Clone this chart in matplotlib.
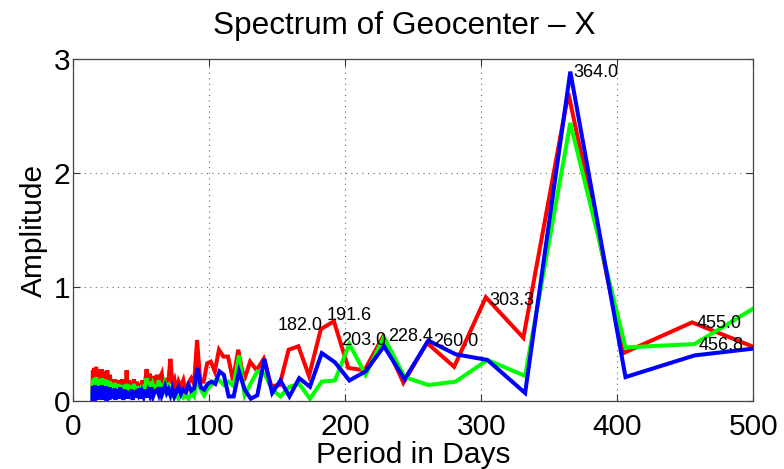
import matplotlib
matplotlib.use("Agg")
import matplotlib.pyplot as plt

# ---------------- data ----------------
dense_periods = [14.0, 14.4, 14.8, 15.2, 15.6, 16.0, 16.4, 16.8, 17.2, 17.6, 18.0, 18.4, 18.8, 19.2, 19.6, 20.0,
                 20.5, 21.0, 21.5, 22.0, 22.5, 23.0, 23.5, 24.0, 24.5, 25.0, 25.5, 26.0, 26.5, 27.0, 27.5, 28.0,
                 28.6, 29.2, 29.8, 30.4, 31.0, 31.7, 32.4, 33.1, 33.8, 34.5, 35.2, 36.0, 36.8, 37.6, 38.4, 39.2,
                 40.0, 40.9, 41.8, 42.7, 43.6, 44.5, 45.5, 46.5, 47.5, 48.5, 49.5, 50.6, 51.7, 52.8, 53.9, 55.0,
                 56.2, 57.4, 58.6, 59.8,
                 61.7, 62.8, 63.9, 65.0, 66.2, 67.4, 68.7, 70.0, 71.4, 72.8, 74.3, 75.8, 77.4, 79.1, 80.9, 82.7,
                 84.7, 86.7, 88.8]

red_long_periods = [91.0, 93.3, 95.8, 98.4, 101.1, 104.0, 107.1, 110.3, 113.8, 117.4,
                    121.3, 125.5, 130.0, 134.8, 140.0, 145.6, 151.7, 158.3, 165.5, 173.3,
                    182.0, 191.6, 202.2, 214.1, 227.5, 242.7, 260.0, 280.0, 303.3, 330.9,
                    364.0, 404.4, 455.0, 520.0]
gb_long_periods = [91.4, 93.7, 96.2, 98.8, 101.5, 104.4, 107.5, 110.7, 114.2, 117.9,
                   121.8, 126.0, 130.5, 135.3, 140.5, 146.2, 152.3, 158.9, 166.1, 174.0,
                   182.7, 192.3, 203.0, 214.9, 228.4, 243.6, 261.0, 281.1, 304.5, 332.2,
                   365.4, 406.0, 456.8, 522.0]

red_dense = [0.06, 0.27, 0.10, 0.29, 0.05, 0.25, 0.12, 0.30, 0.08, 0.26, 0.04, 0.28, 0.11, 0.24, 0.07, 0.27,
             0.09, 0.28, 0.06, 0.22, 0.10, 0.26, 0.05, 0.18, 0.12, 0.27, 0.08, 0.20, 0.04, 0.23, 0.10, 0.19,
             0.07, 0.17, 0.05, 0.19, 0.10, 0.16, 0.06, 0.18, 0.09, 0.15, 0.05, 0.19, 0.11, 0.17, 0.08, 0.27,
             0.10, 0.18, 0.07, 0.16, 0.12, 0.19, 0.06, 0.17, 0.10, 0.15, 0.08, 0.18, 0.11, 0.16, 0.28, 0.12,
             0.24, 0.09, 0.22, 0.14,
             0.23, 0.12, 0.21, 0.24, 0.10, 0.20, 0.14, 0.18, 0.37, 0.15, 0.19, 0.08, 0.17, 0.12, 0.18, 0.06,
             0.16, 0.20, 0.15]
red_long = [0.535, 0.17, 0.17, 0.33, 0.345, 0.26, 0.45, 0.39, 0.39, 0.18,
            0.45, 0.18, 0.345, 0.27, 0.37, 0.13, 0.14, 0.45, 0.48, 0.22,
            0.63, 0.70, 0.29, 0.27, 0.56, 0.16, 0.51, 0.30, 0.91, 0.555,
            2.70, 0.42, 0.69, 0.38]

green_dense = [0.05, 0.18, 0.08, 0.20, 0.04, 0.16, 0.09, 0.21, 0.06, 0.17, 0.03, 0.19, 0.08, 0.15, 0.05, 0.18,
               0.07, 0.20, 0.04, 0.16, 0.09, 0.19, 0.05, 0.14, 0.10, 0.18, 0.06, 0.15, 0.03, 0.17, 0.08, 0.14,
               0.06, 0.13, 0.04, 0.16, 0.08, 0.12, 0.05, 0.15, 0.07, 0.11, 0.04, 0.14, 0.09, 0.12, 0.06, 0.15,
               0.08, 0.14, 0.05, 0.12, 0.09, 0.15, 0.04, 0.13, 0.07, 0.11, 0.05, 0.14, 0.08, 0.12, 0.20, 0.09,
               0.17, 0.06, 0.14, 0.10,
               0.12, 0.18, 0.08, 0.15, 0.10, 0.16, 0.12, 0.14, 0.09, 0.06, 0.03, 0.05, 0.02, 0.06, 0.03, 0.05,
               0.02, 0.07, 0.04]
green_long = [0.21, 0.10, 0.05, 0.11, 0.14, 0.18, 0.18, 0.14, 0.17, 0.13,
              0.40, 0.05, 0.155, 0.26, 0.24, 0.10, 0.04, 0.125, 0.15, 0.02,
              0.17, 0.18, 0.50, 0.23, 0.56, 0.21, 0.14, 0.17, 0.36, 0.22,
              2.44, 0.47, 0.50, 0.97]

blue_dense = [0.01, 0.13, 0.03, 0.11, 0.00, 0.14, 0.04, 0.12, 0.02, 0.10, 0.01, 0.13, 0.05, 0.12, 0.02, 0.11,
              0.03, 0.14, 0.01, 0.12, 0.04, 0.10, 0.02, 0.13, 0.00, 0.11, 0.03, 0.09, 0.01, 0.12, 0.04, 0.10,
              0.02, 0.09, 0.04, 0.11, 0.01, 0.08, 0.03, 0.10, 0.02, 0.12, 0.04, 0.07, 0.01, 0.10, 0.03, 0.09,
              0.02, 0.08, 0.04, 0.10, 0.01, 0.09, 0.03, 0.07, 0.05, 0.11, 0.02, 0.08, 0.04, 0.10, 0.03, 0.09,
              0.05, 0.12, 0.04, 0.08,
              0.10, 0.06, 0.12, 0.05, 0.09, 0.13, 0.07, 0.10, 0.05, 0.11, 0.04, 0.08, 0.12, 0.06, 0.10, 0.08,
              0.14, 0.09, 0.11]
blue_long = [0.29, 0.12, 0.10, 0.15, 0.17, 0.15, 0.26, 0.23, 0.04, 0.04,
             0.26, 0.10, 0.02, 0.05, 0.37, 0.07, 0.18, 0.04, 0.20, 0.125,
             0.42, 0.34, 0.18, 0.26, 0.48, 0.19, 0.53, 0.41, 0.36, 0.07,
             2.89, 0.21, 0.40, 0.49]

# labels: (text, series, index in long list, offset px (dx, dy), ha)
peak_labels = [
    ("364.0", "blue", 30, (3, -1), "left"),
    ("303.3", "red", 28, (4, -3), "left"),
    ("260.0", "red", 26, (6, 1), "left"),
    ("228.4", "green", 24, (4, 1), "left"),
    ("203.0", "green", 22, (-8, 4), "left"),
    ("191.6", "red", 21, (-7, 6), "left"),
    ("182.0", "red", 20, (2, 4), "right"),
    ("455.0", "red", 32, (4, -1), "left"),
    ("456.8", "green", 32, (4, -1), "left"),
]

x_ticks = [0, 100, 200, 300, 400, 500]
y_ticks = [0, 1, 2, 3]

# ---------------- plot ----------------
plt.rcParams['font.family'] = ['Liberation Sans', 'DejaVu Sans']
fig = plt.figure(figsize=(7.84, 4.69), dpi=100)
ax = fig.add_axes([0.0935, 0.145, 0.8674, 0.729])

series = {
    "red": (dense_periods + red_long_periods, red_dense + red_long, (1, 0, 0)),
    "green": (dense_periods + gb_long_periods, green_dense + green_long, (0, 1, 0)),
    "blue": (dense_periods + gb_long_periods, blue_dense + blue_long, (0, 0, 1)),
}
for name in ["red", "green", "blue"]:
    xs, ys, c = series[name]
    ax.plot(xs, ys, color=c, lw=2.9, solid_joinstyle='miter')

long_lists = {"red": (red_long_periods, red_long),
              "green": (gb_long_periods, green_long),
              "blue": (gb_long_periods, blue_long)}
for txt, name, idx, (dx, dy), ha in peak_labels:
    px, py = long_lists[name][0][idx], long_lists[name][1][idx]
    ax.annotate(txt, (px, py), xytext=(dx * 0.72, dy * 0.72), textcoords='offset points',
                ha=ha, va='center', fontsize=13, color='black')

ax.set_xlim(0, 500)
ax.set_ylim(0, 3)
ax.set_xticks(x_ticks)
ax.set_yticks(y_ticks)
ax.tick_params(direction='in', length=5, width=0.8, top=True, right=True,
               labelsize=21.5, colors='#333333', labelcolor='black')
ax.tick_params(axis='x', pad=9)
ax.tick_params(axis='y', pad=2)
ax.grid(True, linestyle=(0, (1, 4)), color='#666666', linewidth=0.8)
for s in ax.spines.values():
    s.set_color('#444444')
    s.set_linewidth(0.9)

ax.set_xlabel("Period in Days", fontsize=21.5, labelpad=0)
ax.set_ylabel("Amplitude", fontsize=21.5, labelpad=4)
ax.set_title("Spectrum of Geocenter \u2013 X", fontsize=22.7, pad=18, x=0.486)

fig.savefig("out.png", dpi=100)
